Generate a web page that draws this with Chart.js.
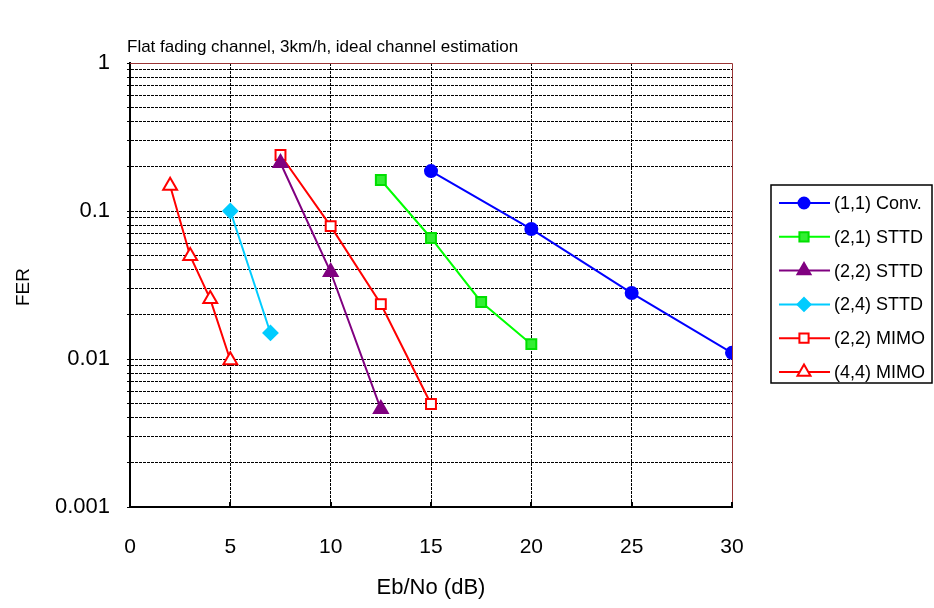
<!DOCTYPE html>
<html>
<head>
<meta charset="utf-8">
<script src="https://cdn.jsdelivr.net/npm/chart.js@4/dist/chart.umd.min.js"></script>
<style>
  html, body { margin: 0; padding: 0; background: #fff; }
  #wrap { width: 934px; height: 608px; position: relative; }
</style>
</head>
<body>
<div id="wrap"><canvas id="ferChart" width="934" height="608"></canvas></div>
<script>
///////////////////////////
// DATA
///////////////////////////

const chartTitle = "Flat fading channel, 3km/h, ideal channel estimation";
const xTitle = "Eb/No (dB)";
const yTitle = "FER";

const xTicks = [0, 5, 10, 15, 20, 25, 30];
const yDecades = [0.001, 0.01, 0.1, 1];
const yTickLabels = ["0.001", "0.01", "0.1", "1"];

const seriesNames = ["(1,1) Conv.", "(2,1) STTD", "(2,2) STTD", "(2,4) STTD", "(2,2) MIMO", "(4,4) MIMO"];

const conv11X = [15, 20, 25, 30];
const conv11Y = [0.186, 0.0755, 0.0279, 0.011];

const sttd21X = [12.5, 15, 17.5, 20];
const sttd21Y = [0.162, 0.0657, 0.0243, 0.0126];

const sttd22X = [7.5, 10, 12.5];
const sttd22Y = [0.211, 0.0387, 0.00459];

const sttd24X = [5, 7];
const sttd24Y = [0.1, 0.015];

const mimo22X = [7.5, 10, 12.5, 15];
const mimo22Y = [0.239, 0.079, 0.0235, 0.00497];

const mimo44X = [2, 3, 4, 5];
const mimo44Y = [0.148, 0.0497, 0.0254, 0.0098];

///////////////////////////
// STYLE
///////////////////////////

const FONT = "'Liberation Sans', Arial, sans-serif";

const seriesStyle = [
    { line: "#0000ff", fill: "#0000ff", edge: "#0000ff", shape: "circle", r: 6 },
    { line: "#00ff00", fill: "#33ee33", edge: "#00e000", shape: "rect", r: 7 },
    { line: "#800080", fill: "#800080", edge: "#800080", shape: "triangle", r: 8 },
    { line: "#00ccff", fill: "#00ccff", edge: "#00ccff", shape: "rectRot", r: 7 },
    { line: "#ff0000", fill: "#ffffff", edge: "#ff0000", shape: "rect", r: 7 },
    { line: "#ff0000", fill: "#ffffff", edge: "#ff0000", shape: "triangle", r: 8 }
];

function toPoints(xs, ys) {
    return xs.map((x, i) => ({ x: x, y: ys[i] }));
}

const seriesData = [
    toPoints(conv11X, conv11Y),
    toPoints(sttd21X, sttd21Y),
    toPoints(sttd22X, sttd22Y),
    toPoints(sttd24X, sttd24Y),
    toPoints(mimo22X, mimo22Y),
    toPoints(mimo44X, mimo44Y)
];

///////////////////////////
// PLUGINS
///////////////////////////

function drawMarker(ctx, shape, x, y, r, fill, edge) {
    ctx.save();
    ctx.fillStyle = fill;
    ctx.strokeStyle = edge;
    ctx.lineWidth = 2;
    ctx.beginPath();
    if (shape === "circle") {
        ctx.arc(x, y, r, 0, Math.PI * 2);
    } else if (shape === "rect") {
        const s = r * Math.SQRT1_2;
        ctx.rect(x - s, y - s, 2 * s, 2 * s);
    } else if (shape === "triangle") {
        ctx.moveTo(x, y - r);
        ctx.lineTo(x + r * 0.866, y + r * 0.5);
        ctx.lineTo(x - r * 0.866, y + r * 0.5);
        ctx.closePath();
    } else if (shape === "rectRot") {
        ctx.moveTo(x, y - r);
        ctx.lineTo(x + r, y);
        ctx.lineTo(x, y + r);
        ctx.lineTo(x - r, y);
        ctx.closePath();
    }
    ctx.fill();
    ctx.stroke();
    ctx.restore();
}

const framePlugin = {
    id: "frame",
    beforeDatasetsDraw(chart) {
        const { ctx, chartArea: a } = chart;
        ctx.save();
        ctx.strokeStyle = "#993333";
        ctx.lineWidth = 1;
        ctx.beginPath();
        ctx.moveTo(a.left, a.top + 0.5);
        ctx.lineTo(a.right + 0.5, a.top + 0.5);
        ctx.lineTo(a.right + 0.5, a.bottom);
        ctx.stroke();

        // small inward ticks on the bottom axis
        const xs = chart.scales.x;
        ctx.strokeStyle = "#000";
        ctx.lineWidth = 2;
        xTicks.forEach(v => {
            const px = Math.round(xs.getPixelForValue(v));
            ctx.beginPath();
            ctx.moveTo(px, a.bottom);
            ctx.lineTo(px, a.bottom - 5);
            ctx.stroke();
        });
        ctx.restore();
    }
};

const textPlugin = {
    id: "texts",
    afterDraw(chart) {
        const { ctx, chartArea: a } = chart;
        ctx.save();
        ctx.fillStyle = "#000";

        // chart title
        ctx.font = "17px " + FONT;
        ctx.textAlign = "left";
        ctx.textBaseline = "middle";
        ctx.fillText(chartTitle, 127, 47);

        // x title
        ctx.font = "22px " + FONT;
        ctx.textAlign = "center";
        ctx.fillText(xTitle, (a.left + a.right) / 2, 588);

        // y title
        ctx.save();
        ctx.translate(24, (a.top + a.bottom) / 2 + 2);
        ctx.rotate(-Math.PI / 2);
        ctx.font = "19px " + FONT;
        ctx.fillText(yTitle, 0, 0);
        ctx.restore();

        // legend box
        const bx = 771, by = 185, bw = 161, bh = 198;
        ctx.strokeStyle = "#000";
        ctx.lineWidth = 1.5;
        ctx.strokeRect(bx, by, bw, bh);

        ctx.font = "18px " + FONT;
        ctx.textAlign = "left";
        seriesNames.forEach((name, i) => {
            const st = seriesStyle[i];
            const yy = 203 + i * 33.8;
            ctx.strokeStyle = st.line;
            ctx.lineWidth = 2;
            ctx.beginPath();
            ctx.moveTo(779, yy);
            ctx.lineTo(830, yy);
            ctx.stroke();
            drawMarker(ctx, st.shape, 804, yy, st.r - 0.5, st.fill, st.edge);
            ctx.fillStyle = "#000";
            ctx.fillText(name, 834, yy + 1);
        });
        ctx.restore();
    }
};

///////////////////////////
// CHART
///////////////////////////

const ctx = document.getElementById("ferChart").getContext("2d");

new Chart(ctx, {
    type: "line",
    data: {
        datasets: seriesNames.map((name, i) => ({
            label: name,
            data: seriesData[i],
            borderColor: seriesStyle[i].line,
            borderWidth: 2,
            backgroundColor: seriesStyle[i].fill,
            pointStyle: seriesStyle[i].shape,
            pointRadius: seriesStyle[i].r,
            pointBorderColor: seriesStyle[i].edge,
            pointBackgroundColor: seriesStyle[i].fill,
            pointBorderWidth: 2,
            tension: 0,
            fill: false
        }))
    },
    options: {
        responsive: false,
        animation: false,
        layout: { padding: { top: 63, right: 202, left: 0, bottom: 0 } },
        plugins: {
            legend: { display: false },
            title: { display: false },
            tooltip: { enabled: false }
        },
        scales: {
            x: {
                type: "linear",
                min: 0,
                max: 30,
                afterFit: s => { s.height = 101; },
                afterBuildTicks: s => { s.ticks = xTicks.map(v => ({ value: v })); },
                ticks: {
                    font: { family: FONT, size: 21 },
                    color: "#000",
                    padding: 28,
                    maxRotation: 0
                },
                grid: {
                    color: c => (c.tick && (c.tick.value === 0 || c.tick.value === 30)) ? "rgba(0,0,0,0)" : "#000",
                    lineWidth: 1,
                    drawTicks: false
                },
                border: { display: true, color: "#000", width: 2, dash: [3, 1] }
            },
            y: {
                type: "logarithmic",
                min: 0.001,
                max: 1,
                afterFit: s => { s.width = 130; },
                afterBuildTicks: s => {
                    const ticks = [];
                    yDecades.forEach(d => {
                        const n = d === 1 ? 1 : 9;
                        for (let k = 1; k <= n; k++) ticks.push({ value: d * k });
                    });
                    s.ticks = ticks;
                },
                ticks: {
                    autoSkip: false,
                    font: { family: FONT, size: 22 },
                    color: "#000",
                    padding: 17,
                    callback: v => {
                        const idx = yDecades.findIndex(d => Math.abs(v - d) / d < 1e-6);
                        return idx >= 0 ? yTickLabels[idx] : "";
                    }
                },
                grid: {
                    color: c => (c.tick && (Math.abs(c.tick.value - 1) < 1e-9 || Math.abs(c.tick.value - 0.001) < 1e-12)) ? "rgba(0,0,0,0)" : "#000",
                    lineWidth: 1,
                    drawTicks: true,
                    tickLength: 3,
                    tickColor: "#000"
                },
                border: { display: true, color: "#000", width: 2, dash: [3, 1] }
            }
        }
    },
    plugins: [framePlugin, textPlugin]
});
</script>
</body>
</html>
